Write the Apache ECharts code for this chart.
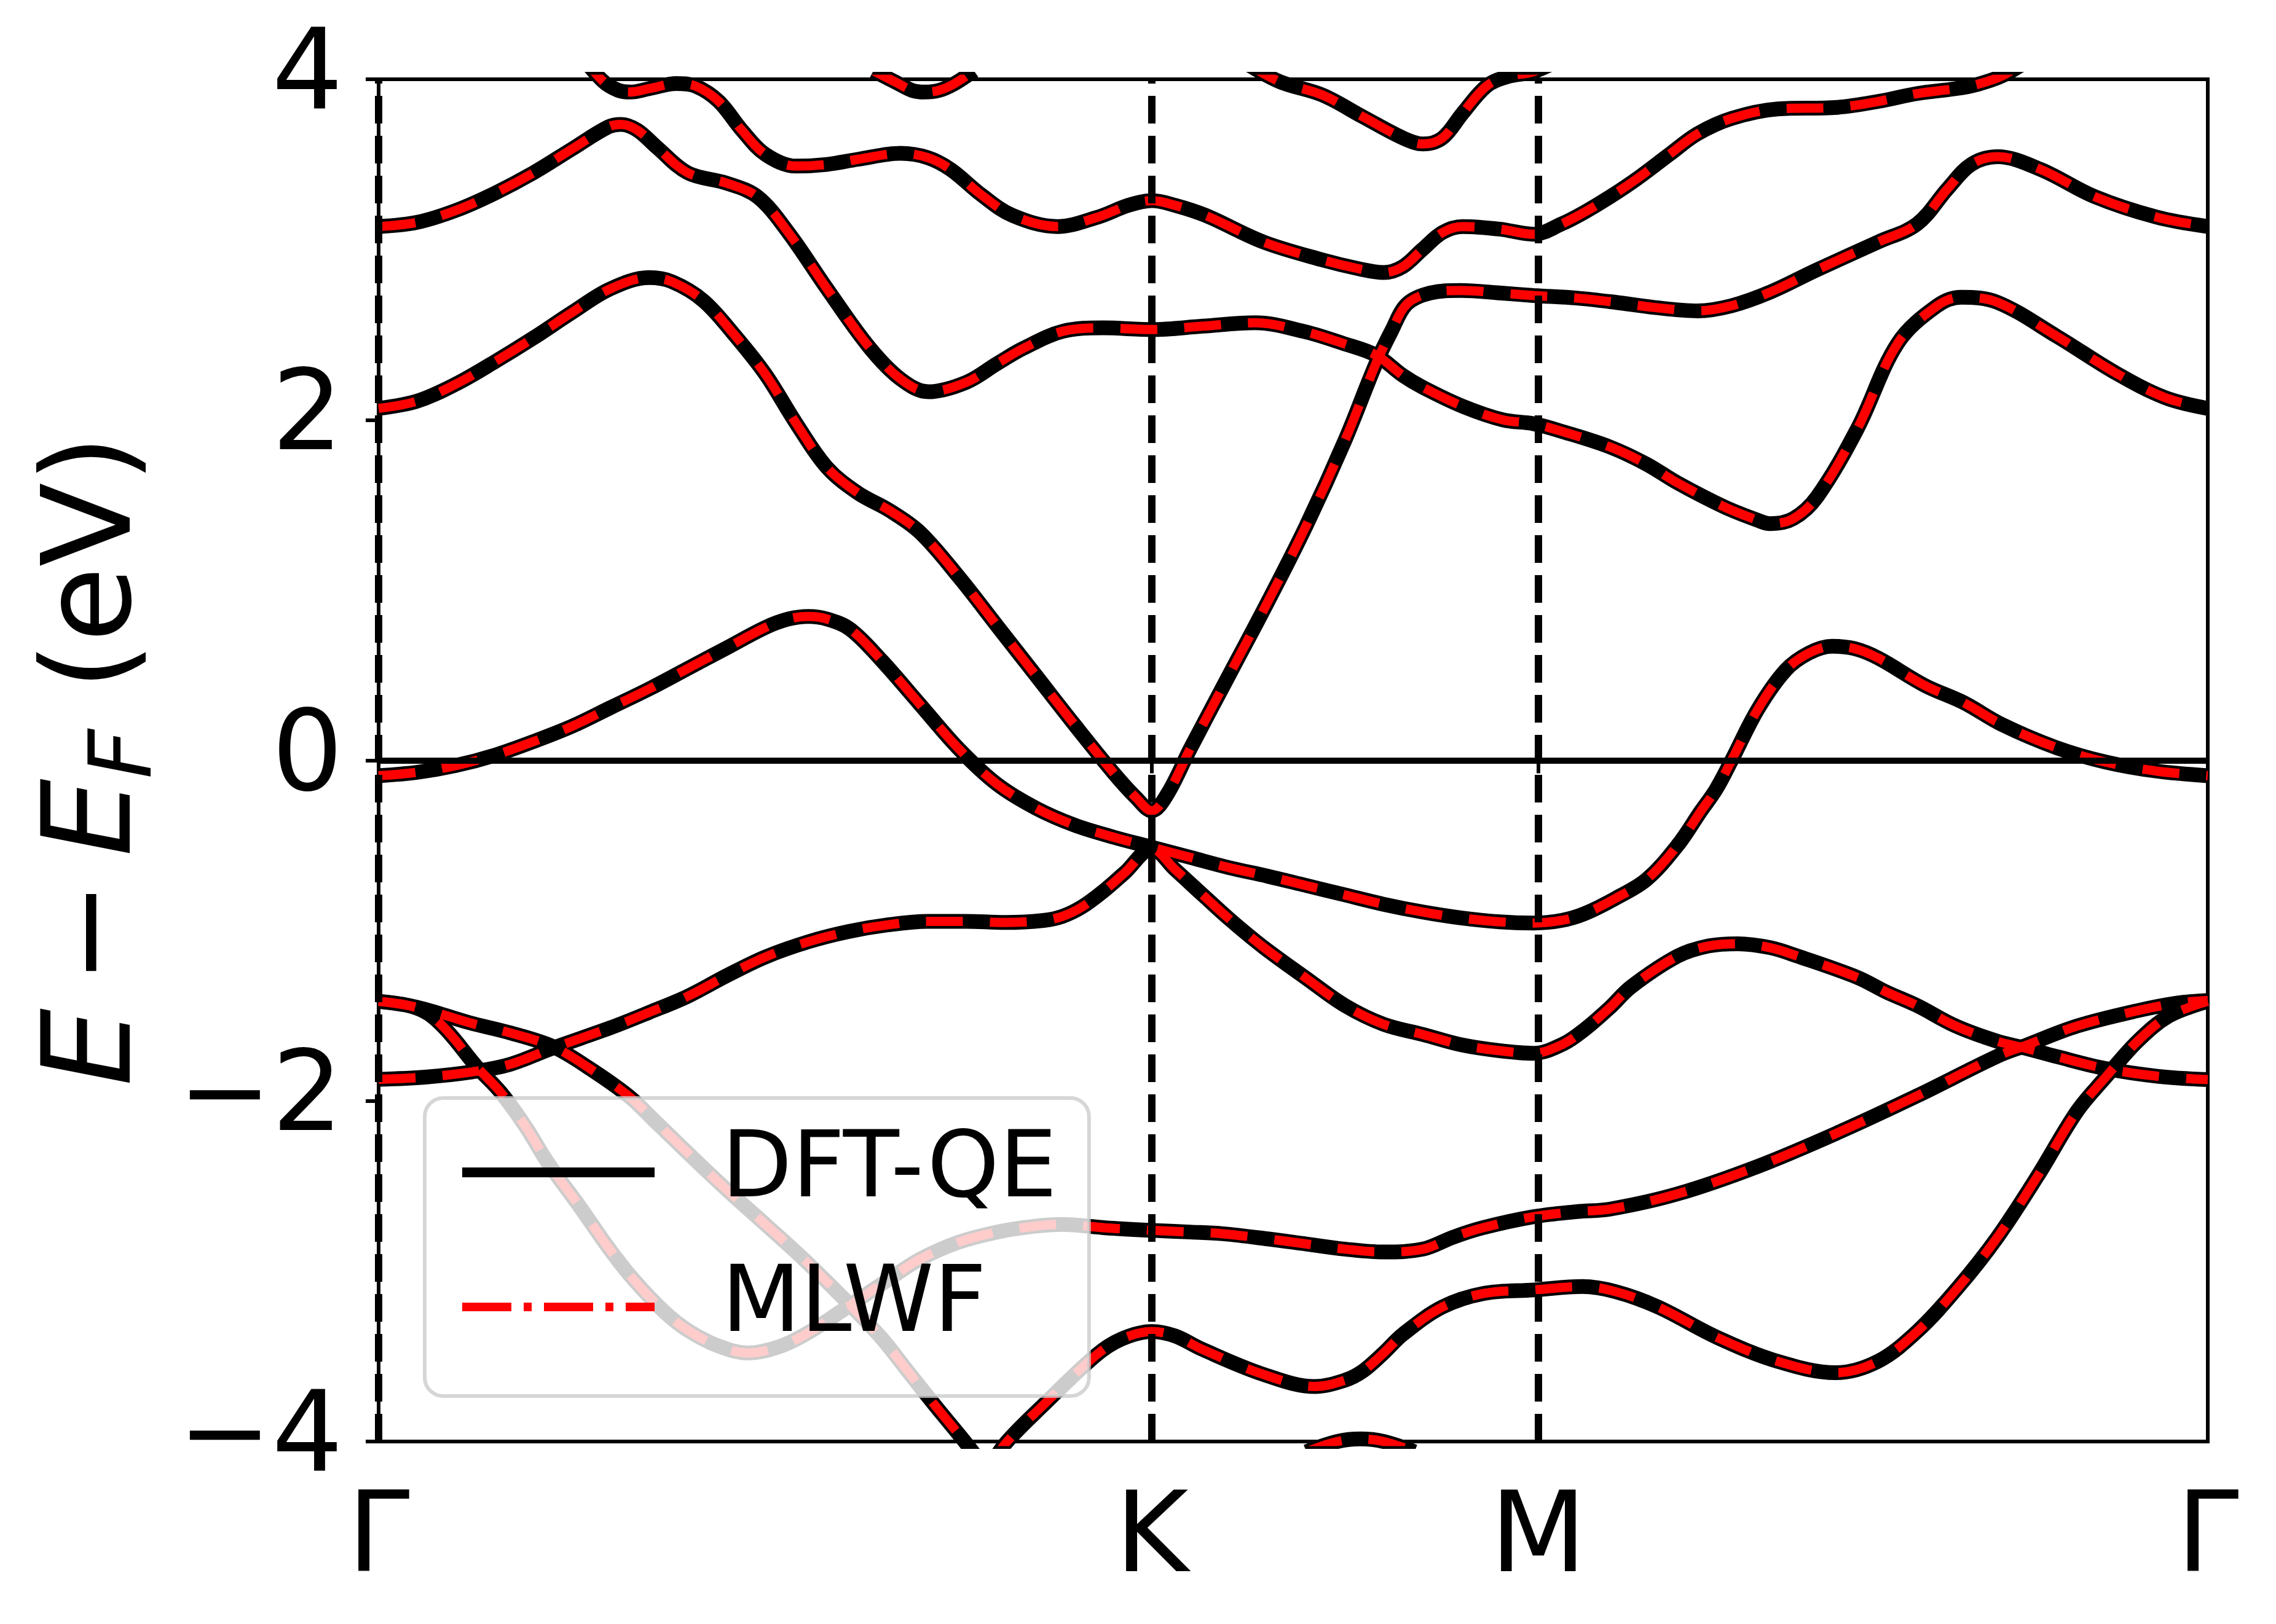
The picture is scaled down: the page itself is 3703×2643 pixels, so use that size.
<!DOCTYPE html>
<html>
<head>
<meta charset="utf-8">
<script src="https://cdn.jsdelivr.net/npm/echarts@6/dist/echarts.min.js"></script>
<style>
html, body { margin: 0; padding: 0; background: #fff; }
#chart { width: 3703px; height: 2643px; }
</style>
</head>
<body>
<div id="chart"></div>
<script>
// k-path: Γ-K-M-Γ, lengths in ratio 1 : 0.5 : 0.866
var kTicks = [0, 1, 1.5, 2.366];
var kLabels = ['Γ', 'K', 'M', 'Γ'];
var yTicks = [-4, -2, 0, 2, 4];

// bands, [k, E - EF]
var bandFermi = [[0,-0.09],[0.05,-0.07],[0.1,-0.03],[0.15,0.03],[0.2,0.11],[0.25,0.2],[0.3,0.31],[0.35,0.42],[0.4,0.54],[0.45,0.66],[0.5,0.78],[0.53,0.83],[0.556,0.845],[0.58,0.83],[0.61,0.77],[0.65,0.59],[0.7,0.33],[0.75,0.07],[0.8,-0.14],[0.85,-0.28],[0.9,-0.38],[0.95,-0.45],[1.0,-0.51],[1.05,-0.57],[1.1,-0.63],[1.15,-0.68],[1.2,-0.735],[1.25,-0.79],[1.3,-0.845],[1.35,-0.89],[1.4,-0.925],[1.45,-0.948],[1.494,-0.955],[1.53,-0.94],[1.56,-0.9],[1.6,-0.81],[1.64,-0.7],[1.68,-0.5],[1.71,-0.3],[1.73,-0.17],[1.75,0],[1.784,0.3],[1.82,0.53],[1.85,0.63],[1.88,0.67],[1.91,0.655],[1.94,0.6],[2.0,0.44],[2.05,0.34],[2.1,0.21],[2.17,0.075],[2.234,-0.01],[2.3,-0.063],[2.366,-0.09]];

var bandV = [[0,2.067],[0.05,2.11],[0.1,2.21],[0.15,2.34],[0.2,2.48],[0.25,2.63],[0.3,2.77],[0.35,2.835],[0.38,2.81],[0.42,2.7],[0.46,2.5],[0.5,2.27],[0.54,1.98],[0.58,1.72],[0.62,1.57],[0.66,1.47],[0.7,1.34],[0.75,1.08],[0.8,0.79],[0.85,0.5],[0.9,0.21],[0.95,-0.07],[0.98,-0.22],[1.0,-0.296],[1.02,-0.2],[1.05,0.07],[1.1,0.5],[1.15,0.93],[1.2,1.38],[1.25,1.88],[1.29,2.33],[1.31,2.52],[1.33,2.68],[1.36,2.745],[1.4,2.76],[1.45,2.745],[1.494,2.73],[1.55,2.715],[1.6,2.69],[1.65,2.66],[1.706,2.64],[1.75,2.67],[1.8,2.75],[1.86,2.88],[1.94,3.045],[1.99,3.15],[2.03,3.36],[2.06,3.5],[2.094,3.545],[2.15,3.47],[2.22,3.31],[2.3,3.19],[2.366,3.135]];

var bandU3 = [[0,3.135],[0.05,3.16],[0.1,3.23],[0.15,3.33],[0.2,3.45],[0.25,3.59],[0.297,3.72],[0.314,3.735],[0.335,3.7],[0.36,3.6],[0.4,3.45],[0.45,3.39],[0.49,3.31],[0.53,3.1],[0.58,2.77],[0.634,2.43],[0.675,2.24],[0.711,2.165],[0.76,2.22],[0.8,2.33],[0.834,2.42],[0.885,2.52],[0.937,2.54],[1.0,2.53],[1.066,2.55],[1.134,2.57],[1.196,2.52],[1.247,2.45],[1.29,2.38],[1.325,2.26],[1.351,2.19],[1.402,2.08],[1.454,2.0],[1.494,1.977],[1.532,1.93],[1.593,1.84],[1.64,1.74],[1.68,1.63],[1.74,1.49],[1.784,1.41],[1.8,1.39],[1.83,1.42],[1.861,1.55],[1.913,1.95],[1.965,2.45],[2.016,2.67],[2.047,2.72],[2.094,2.69],[2.171,2.49],[2.249,2.27],[2.311,2.13],[2.366,2.067]];

var bandU4 = [[0.26,4.15],[0.29,3.99],[0.31,3.935],[0.326,3.925],[0.35,3.945],[0.385,3.975],[0.41,3.96],[0.44,3.87],[0.47,3.7],[0.5,3.56],[0.54,3.49],[0.58,3.5],[0.62,3.53],[0.675,3.565],[0.71,3.54],[0.74,3.47],[0.78,3.32],[0.82,3.2],[0.878,3.135],[0.93,3.19],[0.97,3.26],[1.0,3.287],[1.03,3.26],[1.07,3.2],[1.144,3.045],[1.22,2.94],[1.27,2.885],[1.3,2.865],[1.325,2.9],[1.35,3.0],[1.376,3.1],[1.402,3.135],[1.45,3.12],[1.494,3.09],[1.53,3.15],[1.56,3.22],[1.593,3.31],[1.629,3.42],[1.67,3.56],[1.706,3.68],[1.75,3.77],[1.81,3.826],[1.887,3.835],[1.94,3.87],[1.99,3.916],[2.04,3.945],[2.068,3.97],[2.1,4.02],[2.13,4.1]];

var bandTop2 = [[0.64,4.05],[0.67,3.98],[0.69,3.935],[0.706,3.925],[0.725,3.935],[0.745,3.975],[0.77,4.05]];

var bandTop3 = [[1.12,4.1],[1.165,3.987],[1.221,3.907],[1.273,3.78],[1.325,3.655],[1.351,3.62],[1.376,3.655],[1.402,3.8],[1.433,3.96],[1.46,4.015],[1.494,4.045],[1.53,4.12]];

var bandLow1 = [[0,-1.873],[0.06,-1.86],[0.12,-1.83],[0.17,-1.785],[0.225,-1.69],[0.3,-1.57],[0.35,-1.48],[0.4,-1.385],[0.45,-1.265],[0.5,-1.155],[0.556,-1.065],[0.608,-1.005],[0.66,-0.965],[0.71,-0.945],[0.76,-0.945],[0.81,-0.952],[0.86,-0.94],[0.885,-0.915],[0.91,-0.86],[0.937,-0.77],[0.965,-0.66],[1.0,-0.52],[1.03,-0.64],[1.066,-0.79],[1.1,-0.93],[1.144,-1.095],[1.2,-1.28],[1.25,-1.44],[1.3,-1.55],[1.351,-1.61],[1.4,-1.67],[1.45,-1.705],[1.494,-1.72],[1.532,-1.666],[1.56,-1.58],[1.593,-1.45],[1.62,-1.33],[1.68,-1.15],[1.72,-1.09],[1.758,-1.077],[1.8,-1.1],[1.835,-1.149],[1.913,-1.275],[1.95,-1.36],[1.99,-1.44],[2.04,-1.56],[2.094,-1.65],[2.13,-1.69],[2.171,-1.74],[2.234,-1.81],[2.301,-1.855],[2.366,-1.875]];

var bandLow2 = [[0,-1.415],[0.039,-1.44],[0.065,-1.49],[0.091,-1.6],[0.127,-1.8],[0.158,-1.95],[0.19,-2.15],[0.22,-2.37],[0.26,-2.62],[0.297,-2.86],[0.33,-3.05],[0.37,-3.24],[0.401,-3.35],[0.44,-3.44],[0.478,-3.48],[0.52,-3.44],[0.556,-3.36],[0.6,-3.23],[0.659,-3.05],[0.7,-2.93],[0.75,-2.83],[0.8,-2.77],[0.85,-2.735],[0.885,-2.725],[0.94,-2.745],[1.0,-2.76],[1.05,-2.77],[1.092,-2.78],[1.15,-2.81],[1.2,-2.84],[1.25,-2.87],[1.3,-2.887],[1.351,-2.87],[1.39,-2.8],[1.428,-2.745],[1.494,-2.68],[1.55,-2.65],[1.593,-2.635],[1.68,-2.546],[1.784,-2.384],[1.887,-2.187],[1.99,-1.97],[2.094,-1.737],[2.13,-1.675],[2.197,-1.56],[2.275,-1.47],[2.327,-1.425],[2.366,-1.41]];

var bandLow3 = [[0,-1.415],[0.05,-1.45],[0.117,-1.54],[0.17,-1.6],[0.225,-1.68],[0.27,-1.8],[0.323,-1.97],[0.36,-2.13],[0.401,-2.31],[0.45,-2.52],[0.504,-2.74],[0.55,-2.93],[0.608,-3.19],[0.65,-3.39],[0.685,-3.59],[0.72,-3.79],[0.758,-4.0],[0.78,-4.13]];

var bandLow4 = [[0.79,-4.15],[0.813,-4.0],[0.86,-3.785],[0.927,-3.497],[0.96,-3.4],[1.0,-3.354],[1.03,-3.38],[1.066,-3.46],[1.144,-3.605],[1.211,-3.677],[1.25,-3.64],[1.273,-3.587],[1.3,-3.48],[1.325,-3.37],[1.376,-3.21],[1.43,-3.13],[1.494,-3.11],[1.557,-3.09],[1.6,-3.12],[1.655,-3.21],[1.732,-3.39],[1.81,-3.53],[1.885,-3.596],[1.939,-3.53],[1.99,-3.354],[2.042,-3.1],[2.094,-2.8],[2.146,-2.44],[2.197,-2.06],[2.234,-1.86],[2.275,-1.65],[2.316,-1.5],[2.366,-1.415]];

var bandBottom = [[1.2,-4.06],[1.24,-4.0],[1.27,-3.985],[1.3,-4.0],[1.34,-4.06]];

var bands = [bandU4, bandTop2, bandTop3, bandU3, bandV, bandFermi, bandLow1, bandLow2, bandLow3, bandLow4, bandBottom];

var font = 'DejaVu Sans';
var chart = echarts.init(document.getElementById('chart'));

var series = [{
    type: 'line',
    data: [],
    z: 1,
    silent: true,
    markLine: {
        silent: true,
        symbol: 'none',
        label: { show: false },
        lineStyle: { color: '#000', width: 12, type: [45, 20] },
        data: [
            { xAxis: kTicks[0] }, { xAxis: kTicks[1] }, { xAxis: kTicks[2] }, { xAxis: kTicks[3] },
            { yAxis: 0, lineStyle: { type: 'solid', width: 10 } }
        ]
    }
}];
bands.forEach(function (b) {
    series.push({
        name: 'DFT-QE', type: 'line', data: b, smooth: 0.35, symbol: 'none', z: 2, silent: true,
        itemStyle: { color: '#000' },
        lineStyle: { color: '#000', width: 24 }
    });
});
bands.forEach(function (b) {
    series.push({
        name: 'MLWF', type: 'line', data: b, smooth: 0.35, symbol: 'none', z: 3, silent: true,
        itemStyle: { color: '#ff0000' },
        lineStyle: { color: '#ff0000', width: 15, type: [60, 44] }
    });
});

var option = {
    animation: false,
    backgroundColor: '#fff',
    grid: {
        left: 616, right: 111, top: 129, bottom: 297,
        show: true, borderColor: '#000', borderWidth: 6
    },
    xAxis: {
        type: 'value', min: 0, max: kTicks[3],
        axisLine: { lineStyle: { color: '#000', width: 6 } },
        axisTick: { customValues: kTicks, length: 21, lineStyle: { color: '#000', width: 6 } },
        axisLabel: {
            customValues: kTicks, margin: 73, color: '#000', fontFamily: font, fontSize: 182,
            formatter: function (v) {
                var i = 0;
                kTicks.forEach(function (t, j) { if (Math.abs(t - v) < 1e-6) i = j; });
                return kLabels[i];
            }
        },
        splitLine: { show: false }
    },
    yAxis: {
        type: 'value', min: yTicks[0], max: yTicks[4], interval: 2,
        name: '{i|E}{n|\u2009\u2212\u2009}{i|E}{s|F}{n| (eV)}',
        nameLocation: 'middle', nameGap: 336, nameRotate: 90,
        nameTextStyle: {
            color: '#000', fontFamily: font, fontSize: 200,
            rich: {
                i: { fontStyle: 'italic', fontFamily: font, fontSize: 200, lineHeight: 240 },
                n: { fontFamily: font, fontSize: 200, lineHeight: 240 },
                s: { fontStyle: 'italic', fontFamily: font, fontSize: 140, lineHeight: 140, verticalAlign: 'bottom' }
            }
        },
        axisLine: { show: true, lineStyle: { color: '#000', width: 6 } },
        axisTick: { show: true, length: 21, lineStyle: { color: '#000', width: 6 } },
        axisLabel: {
            margin: 58, color: '#000', fontFamily: font, fontSize: 182,
            formatter: function (v) { return String(v).replace('-', '\u2212'); }
        },
        splitLine: { show: false }
    },
    legend: {
        orient: 'vertical', left: 691, top: 1787,
        padding: [46, 52, 70, 53],
        itemWidth: 313, itemHeight: 16, itemGap: 69,
        selectedMode: false,
        backgroundColor: 'rgba(255,255,255,0.8)',
        borderColor: 'rgba(204,204,204,0.8)', borderWidth: 6, borderRadius: 30,
        itemStyle: { opacity: 0 },
        textStyle: { color: '#000', fontFamily: font, fontSize: 149, lineHeight: 150, padding: [0, 0, 0, 104] },
        data: [
            { name: 'DFT-QE', itemStyle: { opacity: 0 }, lineStyle: { width: 16, color: '#000' } },
            { name: 'MLWF', itemStyle: { opacity: 0 }, lineStyle: { width: 14, color: '#ff0000', type: [80, 20, 13, 20] } }
        ]
    },
    series: series
};
chart.setOption(option);
</script>
</body>
</html>
